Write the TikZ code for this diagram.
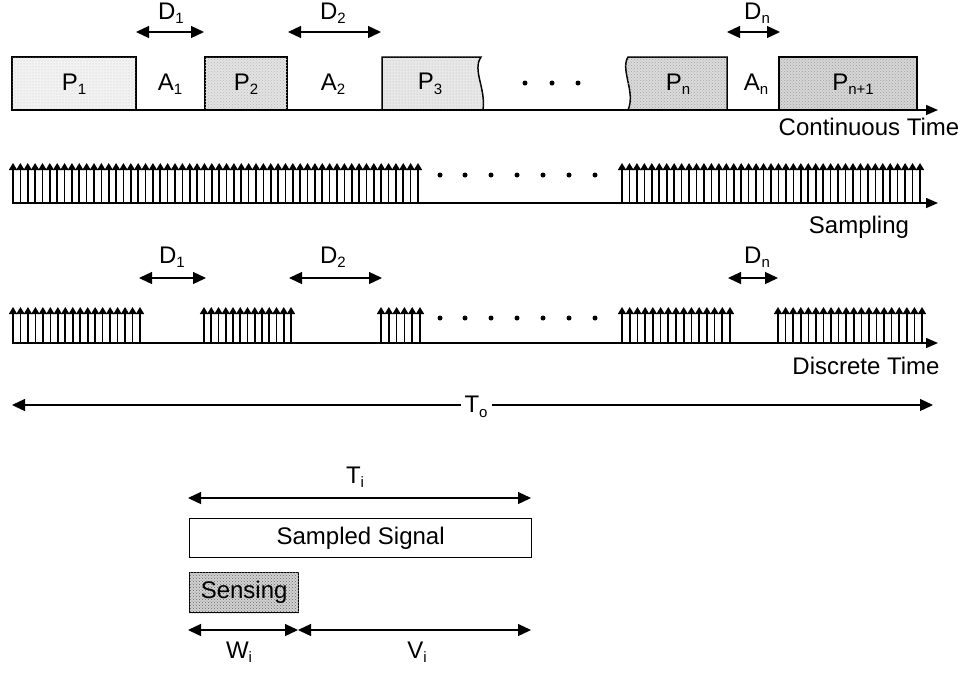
\documentclass[tikz,border=0pt]{standalone}
\usepackage{fontspec}
\setmainfont{Liberation Sans}
\usetikzlibrary{arrows.meta,patterns}
\newcommand{\lsub}[1]{\raisebox{-0.35ex}{\fontsize{15}{15}\selectfont #1}}
\newcommand{\combrow}[5]{\pgfmathsetmacro{\cstep}{(#2-#1)/#3}\foreach \k in {0,...,#3}{\draw[spike] ({#1+\cstep*\k},#4) -- ({#1+\cstep*\k},#5);}}
\begin{document}
\begin{tikzpicture}[x=1pt,y=-1pt,
  lab/.style={font=\fontsize{24}{27}\selectfont, inner sep=0pt},
  axis/.style={line width=1.5pt,-{Triangle[length=12pt,width=10pt]}},
  dim/.style={line width=1.3pt,{Triangle[length=13pt,width=12pt]}-{Triangle[length=13pt,width=12pt]}},
  spike/.style={line width=1.6pt,-{Triangle[length=7pt,width=8pt]}},
  pbox/.style={draw,line width=1.5pt},
  dot/.style={fill=black,circle,inner sep=0pt,minimum size=5pt}]
\useasboundingbox (0,0) rectangle (969,673);

% ---------- continuous time row ----------
\coordinate (c0) at (12,110); \coordinate (c1) at (938,110);
\draw[pbox,fill=gray!10] (12,57) rectangle (136,110);
\fill[pattern=dots,pattern color=gray!45] (12,57) rectangle (136,110);
\draw[pbox,fill=gray!22] (205,57) rectangle (287,110);
\fill[pattern=crosshatch dots,pattern color=gray!55] (205,57) rectangle (287,110);
\draw[pbox,fill=gray!18] (382,110) -- (382,57) -- (481,57) .. controls (472,70) and (486,88) .. (483,110) -- cycle;
\fill[pattern=dots,pattern color=gray!60] (382,110) -- (382,57) -- (481,57) .. controls (472,70) and (486,88) .. (483,110) -- cycle;
\draw[pbox,fill=gray!28] (727,110) -- (727,57) -- (628,57) .. controls (620,70) and (636,92) .. (628,110) -- cycle;
\fill[pattern=crosshatch dots,pattern color=gray!70] (727,110) -- (727,57) -- (628,57) .. controls (620,70) and (636,92) .. (628,110) -- cycle;
\draw[pbox,fill=gray!32] (779,57) rectangle (917,110);
\fill[pattern=crosshatch dots,pattern color=gray!75] (779,57) rectangle (917,110);
\draw[pbox] (779,57) rectangle (917,110);
\draw[axis] (c0) -- (c1);
\node[lab] (p1) at (74,84) {P\lsub{1}};
\node[lab] (a1) at (170,84) {A\lsub{1}};
\node[lab] (p2) at (246,84) {P\lsub{2}};
\node[lab] (a2) at (333,84) {A\lsub{2}};
\node[lab] (p3) at (430,84) {P\lsub{3}};
\node[lab] (pn) at (678,84) {P\lsub{n}};
\node[lab] (an) at (756,84) {A\lsub{n}};
\node[lab] (pn1) at (853,84) {P\lsub{n+1}};
\node[dot] (cd1) at (525,83) {};
\node[dot] (cd2) at (552,83) {};
\node[dot] (cd3) at (578,83) {};
\node[lab] (ct) at (869,127) {Continuous Time};
% D arrows top
\coordinate (d1a) at (136,32); \coordinate (d1b) at (204,32);
\coordinate (d2a) at (288,32); \coordinate (d2b) at (381,32);
\coordinate (dna) at (727,32); \coordinate (dnb) at (780,32);
\draw[dim] (d1a) -- (d1b); \draw[dim] (d2a) -- (d2b); \draw[dim] (dna) -- (dnb);
\node[lab] (dl1) at (171,13) {D\lsub{1}};
\node[lab] (dl2) at (333,13) {D\lsub{2}};
\node[lab] (dln) at (757,13) {D\lsub{n}};

% ---------- sampling row ----------
\coordinate (s0) at (12,203); \coordinate (s1) at (938,203);
\combrow{13}{418}{55}{203}{163}
\combrow{622}{920}{40}{203}{163}
\draw[axis] (s0) -- (s1);
\foreach \x [count=\j] in {440,465,491,517,543,569,595}{\node[dot] (sd\j) at (\x,175) {};}
\node[lab] (samp) at (859,227) {Sampling};

% ---------- discrete time row ----------
\coordinate (t0) at (12,343); \coordinate (t1) at (938,343);
\combrow{13}{140}{17}{343}{307}
\combrow{204}{291}{12}{343}{307}
\combrow{381}{420}{5}{343}{307}
\combrow{622}{730}{14}{343}{307}
\combrow{778}{922}{19}{343}{307}
\draw[axis] (t0) -- (t1);
\foreach \x [count=\j] in {440,465,491,517,543,569,595}{\node[dot] (td\j) at (\x,318) {};}
\node[lab] (dt) at (866,366) {Discrete Time};
\coordinate (e1a) at (139,278); \coordinate (e1b) at (206,278);
\coordinate (e2a) at (289,278); \coordinate (e2b) at (382,278);
\coordinate (ena) at (728,278); \coordinate (enb) at (778,278);
\draw[dim] (e1a) -- (e1b); \draw[dim] (e2a) -- (e2b); \draw[dim] (ena) -- (enb);
\node[lab] (el1) at (172,257) {D\lsub{1}};
\node[lab] (el2) at (333,257) {D\lsub{2}};
\node[lab] (eln) at (757,257) {D\lsub{n}};

% ---------- T_o ----------
\coordinate (o0) at (12,405); \coordinate (o1) at (933,405);
\draw[dim] (o0) -- (o1);
\node[lab,fill=white,inner xsep=4pt,inner ysep=2pt] (to) at (476,407) {T\lsub{o}};

% ---------- bottom detail ----------
\coordinate (ti0) at (188,498); \coordinate (ti1) at (531,498);
\draw[dim] (ti0) -- (ti1);
\node[lab] (til) at (355,477) {T\lsub{i}};
\node[draw,line width=1.3pt,minimum width=342pt,minimum height=39pt,anchor=north west,inner sep=0pt] (ss) at (189,518) {};
\node[lab] at (ss.center) {Sampled Signal};
\node[draw,line width=1.3pt,fill=gray!35,minimum width=109pt,minimum height=40pt,anchor=north west,inner sep=0pt] (sens) at (189,572) {};
\fill[pattern=crosshatch dots,pattern color=gray!80!black] (sens.south west) rectangle (sens.north east);
\node[lab] at (sens.center) {Sensing};
\coordinate (w0) at (188,630); \coordinate (w1) at (298,630); \coordinate (v1) at (531,630);
\draw[dim] (w0) -- (w1);
\draw[dim] (w1) -- (v1);
\node[lab] (wl) at (239,652) {W\lsub{i}};
\node[lab] (vl) at (417,652) {V\lsub{i}};
\end{tikzpicture}
\end{document}
